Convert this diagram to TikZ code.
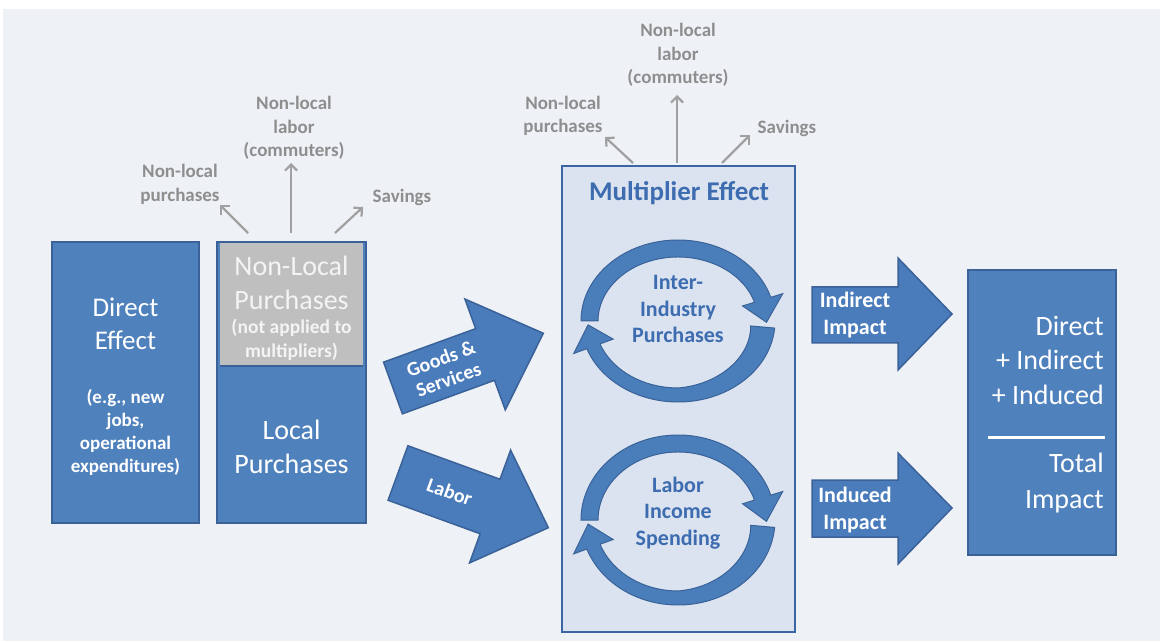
\documentclass[tikz,border=0pt]{standalone}
\usepackage{fontspec}
\setmainfont{Carlito}
\usetikzlibrary{arrows.meta}
\definecolor{bgc}{HTML}{EEF2F7}
\definecolor{bluef}{HTML}{4F81BD}
\definecolor{bdr}{HTML}{3A6298}
\definecolor{grayf}{HTML}{BFBFBF}
\definecolor{grayt}{HTML}{F4F4F4}
\definecolor{annog}{HTML}{8E8E8E}
\definecolor{annoa}{HTML}{A0A0A0}
\definecolor{mfill}{HTML}{DAE3EF}
\definecolor{mbdr}{HTML}{3C66A3}
\definecolor{ttl}{HTML}{3D6CB0}
\definecolor{arrf}{HTML}{4A7CBC}
\definecolor{cycf}{HTML}{4A7EBB}
\newcommand\mycyclepair[1]{%
  \pgfmathsetmacro\cyA{#1}%
  \pgfmathsetmacro\cyB{#1+12.5}%
  \pgfmathsetmacro\cyC{#1-8.5}%
  \pgfmathsetmacro\cyD{#1-29.5}%
  \pgfmathsetmacro\cyE{#1-17}%
  \pgfmathsetmacro\cyF{#1+14}%
  \pgfmathsetmacro\cyG{#1-7}%
  \pgfmathsetmacro\cyH{#1-28}%
  \draw[cyc] (180:97 and \cyA) arc[start angle=180, end angle=17, x radius=97, y radius=\cyA]
    -- (17:109.5 and \cyB) -- (-1:88.5 and \cyC) -- (17:67.5 and \cyD) -- (17:80 and \cyE)
    arc[start angle=17, end angle=180, x radius=80, y radius=\cyE] -- cycle;
  \draw[cyc] (-5:97 and \cyA) arc[start angle=-5, end angle=-160, x radius=97, y radius=\cyA]
    -- (-160:111 and \cyF) -- (-177:90 and \cyG) -- (-160:69 and \cyH)
    -- plot[domain=-160:-5, samples=40] ({(97-(14+10*max(0,(\x+90)/85)))*cos(\x)}, {(\cyA-(14+10*max(0,(\x+90)/85)))*sin(\x)})
    -- cycle;
}
\begin{document}
\begin{tikzpicture}[x=1pt,y=1pt,
  bbox/.style={rectangle, draw=bdr, fill=bluef, line width=2pt, inner sep=0pt},
  wtxt/.style={text=white, align=center, inner sep=0pt},
  gtxt/.style={text=annog, font=\bfseries\fontsize{19}{23.5}\selectfont, align=center, inner sep=0pt},
  garrow/.style={draw=annoa, line width=2.2pt, -{Straight Barb[length=6pt,width=12pt]}},
  blockarr/.style={draw=bdr, fill=arrf, line width=1.5pt, line join=miter},
  cyc/.style={fill=cycf, draw=bdr, line width=1pt, line join=miter},
  ctxt/.style={text=ttl, font=\bfseries\fontsize{22}{26.5}\selectfont, align=center, inner sep=0pt}
]
\useasboundingbox (0,0) rectangle (1160,641);
\fill[white] (0,0) rectangle (1160,641);
\fill[bgc] (3,0) rectangle (1160,632);

% Direct effect box
\node[bbox, minimum width=147pt, minimum height=281pt] (direct) at (125.5,258.5) {};
\node[wtxt, font=\fontsize{27}{33}\selectfont] (directT) at (125.5,317.5) {Direct\\Effect};
\node[wtxt, font=\bfseries\fontsize{19}{23}\selectfont] (directE) at (125.5,208.5) {(e.g., new\\jobs,\\operational\\expenditures)};

% Local / non-local box
\node[bbox, minimum width=149pt, minimum height=281pt] (local) at (291.5,258.5) {};
\node[fill=grayf, minimum width=143pt, minimum height=123pt, inner sep=0pt] (nonlocal) at (291.5,336.5) {};
\draw[bdr, line width=1.5pt] (nonlocal.south west) -- (nonlocal.south east);
\node[wtxt, text=grayt, font=\fontsize{28}{34}\selectfont] (nonlocalT) at (291.5,358.5) {Non-Local\\Purchases};
\node[wtxt, text=grayt, font=\bfseries\fontsize{19.5}{24}\selectfont] (nonlocalS) at (291.5,301) {(not applied to\\multipliers)};
\node[wtxt, font=\fontsize{28}{34}\selectfont] (localT) at (291.5,194.5) {Local\\Purchases};

% Leakages from first stage
\node[gtxt] (lnp) at (180,456.5) {Non-local\\purchases};
\node[gtxt] (lnl) at (294,513) {Non-local\\labor\\(commuters)};
\node[gtxt] (lsv) at (402,444) {Savings};
\coordinate (lpS) at (248,408);
\coordinate (lpE) at (220,436);
\coordinate (llS) at (291,408);
\coordinate (llE) at (291,478);
\coordinate (lsS) at (335,408);
\coordinate (lsE) at (363,434);
\draw[garrow] (lpS) -- (lpE);
\draw[garrow] (llS) -- (llE);
\draw[garrow] (lsS) -- (lsE);

% Goods & Services arrow
\begin{scope}[shift={(393,253)}, rotate=20]
\draw[blockarr] (0,27.5) -- (98,27.5) -- (98,59) -- (160,0) -- (98,-59) -- (98,-27.5) -- (0,-27.5) -- cycle;
\node[wtxt, transform shape, font=\bfseries\fontsize{20}{22}\selectfont] (goods) at (55,0) {Goods \&\\Services};
\end{scope}
% Labor arrow
\begin{scope}[shift={(398,168)}, rotate=-20]
\draw[blockarr] (0,29) -- (98,29) -- (98,60) -- (160,0) -- (98,-60) -- (98,-29) -- (0,-29) -- cycle;
\node[wtxt, transform shape, font=\bfseries\fontsize{20}{22}\selectfont] (labor) at (55,0) {Labor};
\end{scope}

% Multiplier box
\node[draw=mbdr, fill=mfill, line width=2.5pt, minimum width=233pt, minimum height=466pt, inner sep=0pt] (mult) at (678.5,242) {};
\node[text=ttl, font=\bfseries\fontsize{27}{32}\selectfont, inner sep=0pt] (multT) at (679,448) {Multiplier Effect};

% Leakages from multiplier
\node[gtxt] (rnp) at (563,525) {Non-local\\purchases};
\node[gtxt] (rnl) at (678,586) {Non-local\\labor\\(commuters)};
\node[gtxt] (rsv) at (787,513) {Savings};
\coordinate (rpS) at (633,478);
\coordinate (rpE) at (605,504);
\coordinate (rlS) at (677,478);
\coordinate (rlE) at (677,546);
\coordinate (rsS) at (722,478);
\coordinate (rsE) at (750,506);
\draw[garrow] (rpS) -- (rpE);
\draw[garrow] (rlS) -- (rlE);
\draw[garrow] (rsS) -- (rsE);

% Upper cycle
\begin{scope}[shift={(678,320)}]
\mycyclepair{81}
\end{scope}
\node[ctxt] (inter) at (678,332) {Inter-\\Industry\\Purchases};

% Lower cycle
\begin{scope}[shift={(678,121)}]
\mycyclepair{85}
\end{scope}
\node[ctxt] (lis) at (678,128) {Labor\\Income\\Spending};

% Indirect / Induced arrows
\draw[blockarr] (812,354) -- (898,354) -- (898,383) -- (952,327) -- (898,271) -- (898,298) -- (812,298) -- cycle;
\node[wtxt, font=\bfseries\fontsize{22}{27}\selectfont] (indirect) at (855,326) {Indirect\\Impact};
\draw[blockarr] (812,161) -- (898,161) -- (898,188) -- (952,133) -- (898,77) -- (898,104) -- (812,104) -- cycle;
\node[wtxt, font=\bfseries\fontsize{22}{27}\selectfont] (induced) at (855,131) {Induced\\Impact};

% Total box
\node[bbox, minimum width=148pt, minimum height=285pt] (total) at (1042,228.5) {};
\node[wtxt, align=right, anchor=east, font=\fontsize{28}{34.5}\selectfont] (sumT) at (1104,281) {Direct\\+ Indirect\\+ Induced};
\coordinate (barL) at (988,204);
\coordinate (barR) at (1105,204);
\draw[white, line width=3pt] (barL) -- (barR);
\node[wtxt, align=right, anchor=east, font=\fontsize{28}{36}\selectfont] (totalT) at (1104,158) {Total\\Impact};
\end{tikzpicture}
\end{document}
